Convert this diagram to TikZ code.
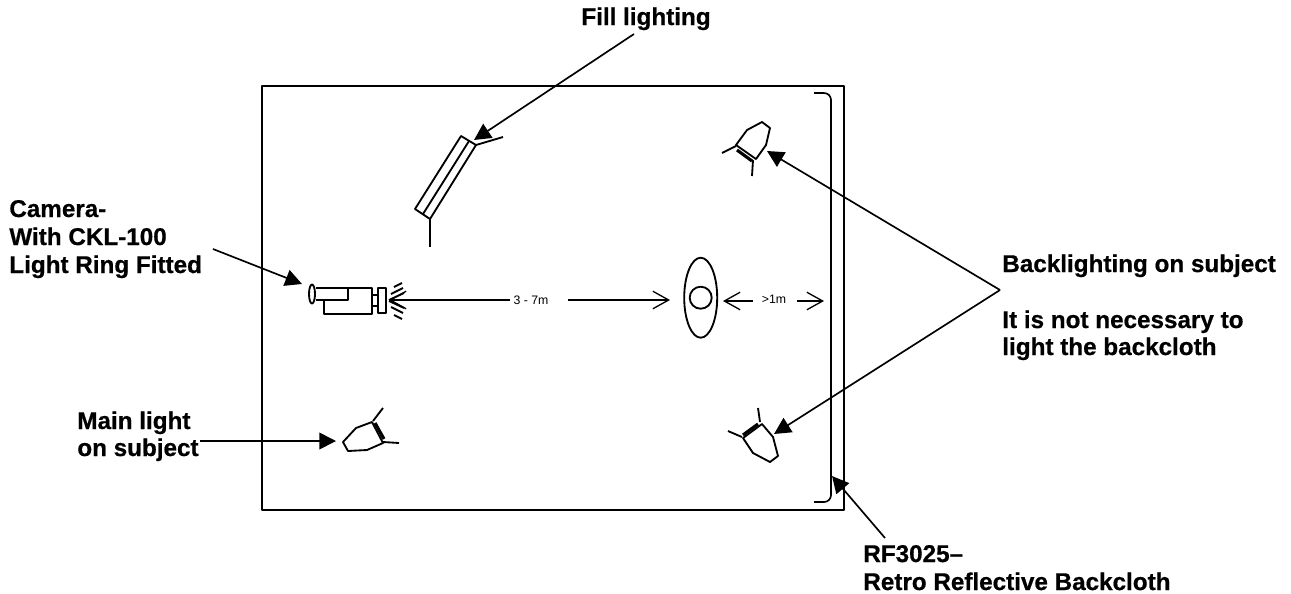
\documentclass[tikz,border=0pt]{standalone}
\usepackage{fontspec}
\setmainfont[BoldFeatures={FakeBold=0.6}]{Liberation Sans}
\usetikzlibrary{arrows.meta,positioning}

\begin{document}
\begin{tikzpicture}[x=0.02cm,y=-0.02cm]
        \tikzstyle{every node} = [align=left, inner sep=0pt]
        \tikzstyle{callout} = [anchor=base west, font=\fontsize{13.8}{16}\selectfont\bfseries]
        \tikzstyle{dim} = [font=\fontsize{7}{8}\selectfont]
        \tikzstyle{outline} = [line width=0.95pt, line join=round]
        \tikzstyle{lamp} = [line width=1.05pt, line join=round]
        \tikzstyle{pointer} = [line width=0.95pt, -{Triangle[length=9.5pt,width=9.5pt]}]
        \tikzstyle{span} = [line width=0.75pt, -{Straight Barb[length=9pt,width=10pt]}]
        \useasboundingbox (0,0) rectangle (1291,593);

        % labels
        \node[callout, anchor=base](fill) at (646,25){Fill lighting};
        \node[callout](cam1) at (9,217){Camera-};
        \node[callout](cam2) at (9,245){With CKL-100};
        \node[callout](cam3) at (9,273){Light Ring Fitted};
        \node[callout](main1) at (77,429){Main light};
        \node[callout](main2) at (77,456){on subject};
        \node[callout](back1) at (1002,272){Backlighting on subject};
        \node[callout](back2) at (1002,328){It is not necessary to};
        \node[callout](back3) at (1002,355){light the backcloth};
        \node[callout](rf1) at (863,562){RF3025--};
        \node[callout](rf2) at (863,590){Retro Reflective Backcloth};
        \node[dim](far) at (531,300){3 - 7m};
        \node[dim](near) at (774,299){>1m};

        % set and backcloth
        \draw[outline] (262,86) rectangle (844,510);
        \draw[outline] (814,93) -- (824,93) to[out=0,in=90] (831,100) -- (831,495) to[out=-90,in=0] (824,502) -- (814,502);

        % fill light
        \draw[lamp] (461,136) -- (476,145) -- (430,219) -- (415,209) -- cycle;
        \draw[lamp] (469,141) -- (423,214);
        \draw[lamp] (476,145) -- (503,137);
        \draw[lamp] (430,219) -- (430,247);

        % camera
        \draw[lamp] (312,294) ellipse (3 and 9.5);
        \draw[lamp] (316,288) -- (372,288) -- (372,314) -- (324,314) -- (324,300);
        \draw[lamp] (316,300) -- (348,300) -- (348,288);
        \draw[lamp] (372,295) -- (378,295);
        \draw[lamp] (372,306) -- (378,306);
        \draw[lamp, line width=1.5pt] (378,288) rectangle (386,313);
        \draw[lamp] (394,287) -- (402,283);
        \draw[lamp] (391,294) -- (403,288);
        \draw[lamp] (389,300) -- (404,293);
        \draw[lamp] (389,301) -- (404,308);
        \draw[lamp] (391,307) -- (403,313);
        \draw[lamp] (394,315) -- (402,319);

        % subject
        \draw[lamp] (700.7,297.7) ellipse (16.5 and 40);
        \draw[lamp] (700.7,297.7) circle (11);

        % upper back light
        \draw[lamp] (736,145) -- (747,130) -- (762,122) -- (770,128) -- (766,145) -- (756,159) -- cycle;
        \draw[lamp, line width=1.8pt] (737,150) -- (752,161);
        \draw[lamp] (736,146) -- (722,153);
        \draw[lamp] (753,160) -- (752,176);

        % lower back light
        \draw[lamp] (762,424) -- (773,437) -- (778,456) -- (770,462) -- (753,453) -- (743,438) -- cycle;
        \draw[lamp, line width=1.8pt] (743,435) -- (758,424);
        \draw[lamp] (760,422) -- (758,408);
        \draw[lamp] (742,437) -- (728,431);

        % main light
        \draw[lamp] (372,422) -- (383,443) -- (367,450) -- (348,451) -- (343,442) -- (356,428) -- cycle;
        \draw[lamp, line width=1.8pt] (375,423) -- (384,439);
        \draw[lamp] (373,421) -- (383,408);
        \draw[lamp] (383,442) -- (399,443);

        % ends of the pointers
        \coordinate(filltail) at (634,34);
        \coordinate(filltip) at (474,140);
        \coordinate(camtail) at (213,249);
        \coordinate(camtip) at (302,284);
        \coordinate(maintail) at (200,441);
        \coordinate(maintip) at (336,441);
        \coordinate(backfork) at (1000,290);
        \coordinate(backtop) at (767,151);
        \coordinate(backlow) at (774,434);
        \coordinate(rftail) at (885,538);
        \coordinate(rftip) at (832,476);

        \draw[pointer] (filltail) -- (filltip);
        \draw[pointer] (camtail) -- (camtip);
        \draw[pointer] (maintail) -- (maintip);
        \draw[pointer] (backfork) -- (backtop);
        \draw[pointer] (backfork) -- (backlow);
        \draw[pointer] (rftail) -- (rftip);

        % distances
        \coordinate(camlens) at (389,300);
        \coordinate(farleft) at (510,300);
        \coordinate(farright) at (568,300);
        \coordinate(fartip) at (670,300);
        \coordinate(nearleft) at (753,301);
        \coordinate(neartip) at (723,301);
        \coordinate(nearright) at (797,301);
        \coordinate(clothtip) at (824,301);

        \draw[span] (farleft) -- (camlens);
        \draw[span] (farright) -- (fartip);
        \draw[span] (nearleft) -- (neartip);
        \draw[span] (nearright) -- (clothtip);
    \end{tikzpicture}
\end{document}
